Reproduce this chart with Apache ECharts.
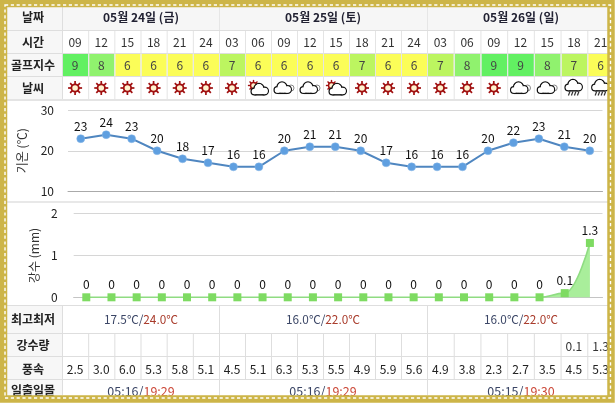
<!DOCTYPE html>
<html><head><meta charset="utf-8">
<style>html,body{margin:0;padding:0;background:#fff}#c{width:615px;height:403px}</style>
<script src="https://cdn.jsdelivr.net/npm/echarts@6/dist/echarts.min.js"></script>
</head><body><div id="c"></div>
<script>
const dayLabels = ['05월 24일 (금)','05월 25일 (토)','05월 26일 (일)'];
const dayCounts = [6,8,7];
const hours = ['09','12','15','18','21','24','03','06','09','12','15','18','21','24','03','06','09','12','15','18','21'];
const golfIndex = [9,8,6,6,6,6,7,6,6,6,6,7,6,6,7,8,9,9,8,7,6];
const weather = ['sun','sun','sun','sun','sun','sun','sun','suncloud','cloud','cloud','suncloud','sun','sun','sun','sun','sun','sun','cloud','cloud','rain','rain'];
const temperature = [23,24,23,20,18,17,16,16,20,21,21,20,17,16,16,16,20,22,23,21,20];
const rainfall = [0,0,0,0,0,0,0,0,0,0,0,0,0,0,0,0,0,0,0,0.1,1.3];
const rainRow = ['','','','','','','','','','','','','','','','','','','','0.1','1.3'];
const wind = ['2.5','3.0','6.0','5.3','5.8','5.1','4.5','5.1','6.3','5.3','5.5','4.9','5.9','5.6','4.9','3.8','2.3','2.7','3.5','4.5','5.3'];
const lowHigh = [['17.5℃','24.0℃'],['16.0℃','22.0℃'],['16.0℃','22.0℃']];
const sunTimes = [['05:16','19:29'],['05:16','19:29'],['05:15','19:30']];
const rowLabels = {date:'날짜',time:'시간',golf:'골프지수',sky:'날씨',range:'최고최저',rain:'강수량',wind:'풍속',sun:'일출일몰'};

const FONT = '"Noto Sans CJK KR","Noto Sans",sans-serif';
const dayEdges = [62,219,427,614];
const golfColors = {9:'#62f062',8:'#90f26e',7:'#bcf560',6:'#fbfd58'};
const LINE = '#dedede';
let edges = [];
dayCounts.forEach((n,d)=>{for(let i=0;i<n;i++)edges.push(dayEdges[d]+(dayEdges[d+1]-dayEdges[d])*i/n);});
edges.push(dayEdges[3]);
const els = [];
const rect=(x,y,w,h,fill,z=1)=>els.push({type:'rect',z,silent:true,shape:{x,y,width:w,height:h},style:{fill}});
const txt=(x,y,text,o={})=>els.push({type:'text',z:o.z||5,silent:true,x,y,style:Object.assign({text,font:(o.weight||'normal')+' '+(o.size||12)+'px '+FONT,fill:o.fill||'#222',align:'center',verticalAlign:'middle'},o.rich?{rich:o.rich}:{})});
const hl=(x1,x2,y,c=LINE,w=1)=>rect(x1,y,x2-x1,w,c,2);
const vl=(x,y1,y2,c=LINE)=>rect(x,y1,1,y2-y1,c,2);

rect(7,7,601,23,'#f6f6f6');
[[31,22],[54,22],[77,22],[305,28],[333,23],[356,23],[379,20]].forEach(r=>rect(7,r[0],55,r[1],'#f7f7f7'));
[30,53,76].forEach(y=>hl(7,608,y));
hl(7,608,99,'#e4e4e4',2);
hl(7,608,201,'#e8e8e8',2);
[305,333,356,379].forEach(y=>hl(7,608,y));
[[7,99],[305,395]].forEach(r=>vl(62,r[0],r[1]));
vl(219,7,30,'#e6e6e6');vl(427,7,30,'#e6e6e6');
vl(219,305,333);vl(427,305,333);
vl(219,379,395);vl(427,379,395);
edges.slice(1,21).forEach(x=>{vl(x,31,99,'#e4e4e4');vl(x,333,379);});

[['date',17],['time',42],['golf',65.5],['sky',88],['range',319],['rain',345],['wind',369],['sun',390]].forEach(r=>{
  txt(33,r[1],rowLabels[r[0]],{weight:'bold',size:12,fill:'#222'});
});
const dayC = [141,323,521];
dayLabels.forEach((t,i)=>{
  txt(dayC[i],17,t,{weight:'bold',size:12,fill:'#223'});
  txt(dayC[i],319.5,'{a|'+lowHigh[i][0]+'/}{b|'+lowHigh[i][1]+'}',{rich:{a:{fill:'#3b4666',font:'11.8px '+FONT},b:{fill:'#a83a2a',font:'11.8px '+FONT}}});
  txt(dayC[i],391,'{a|'+sunTimes[i][0]+'/}{b|'+sunTimes[i][1]+'}',{rich:{a:{fill:'#3b4666',font:'12.5px '+FONT},b:{fill:'#cc4a3a',font:'12.5px '+FONT}}});
});
function sun(cx,cy,s){
  const c=[];
  for(let k=0;k<8;k++){const a=k*Math.PI/4;
    c.push({type:'line',shape:{x1:cx+Math.cos(a)*3.5*s,y1:cy+Math.sin(a)*3.5*s,x2:cx+Math.cos(a)*7*s,y2:cy+Math.sin(a)*7*s},style:{stroke:'#a01010',lineWidth:1.7*s}});}
  c.push({type:'circle',shape:{cx,cy,r:3.7*s},style:{fill:'#fff3cf',stroke:'#a01010',lineWidth:1.8*s}});
  return c;
}
function cloud(cx,cy){
  const parts=[[cx-5.5,cy+2,3.3],[cx-1,cy-1,4.9],[cx+4.5,cy+1.5,3.8]];
  const c=[];
  parts.forEach(p=>c.push({type:'circle',shape:{cx:p[0],cy:p[1],r:p[2]},style:{fill:'#fff',stroke:'#111',lineWidth:1.5}}));
  c.push({type:'line',shape:{x1:cx-5.5,y1:cy+5.3,x2:cx+4.5,y2:cy+5.3},style:{stroke:'#111',lineWidth:1.5}});
  parts.forEach(p=>c.push({type:'circle',shape:{cx:p[0],cy:p[1],r:p[2]-0.5},style:{fill:'#fff'}}));
  c.push({type:'rect',shape:{x:cx-5.5,y:cy,width:10,height:4.6},style:{fill:'#fff'}});
  return c;
}
function icon(kind,cx,cy){
  let c=[];
  if(kind==='sun')c=sun(cx,cy,1);
  if(kind==='suncloud'){c=c.concat(sun(cx-4.5,cy-2.5,0.8),cloud(cx+2,cy+1.5));}
  if(kind==='cloud'){c.push({type:'circle',shape:{cx:cx+7,cy:cy,r:3},style:{fill:'#fff',stroke:'#888',lineWidth:1}});c=c.concat(cloud(cx-1,cy));}
  if(kind==='rain'){c=c.concat(cloud(cx,cy-2.5));
    [-4,-1,2,5].forEach(d=>c.push({type:'line',shape:{x1:cx+d,y1:cy+3.5,x2:cx+d-1.5,y2:cy+7.5},style:{stroke:'#333',lineWidth:1.2}}));}
  c.forEach(e=>{e.z=6;e.silent=true;els.push(e);});
}
hours.forEach((h,i)=>{
  const x0=edges[i],x1=edges[i+1],cx=(x0+x1)/2;
  txt(cx,42.5,h,{size:12,fill:'#333'});
  rect(x0+1,54,x1-x0-1,22,golfColors[golfIndex[i]],1);
  txt(cx,65.5,String(golfIndex[i]),{size:12,fill:'#444'});
  icon(weather[i],cx,88);
  if(rainRow[i])txt(cx,346,rainRow[i],{size:12,fill:'#333'});
  txt(cx,369,wind[i],{size:12,fill:'#222'});
});
els.push({type:'rect',z:50,silent:true,shape:{x:3.5,y:3.5,width:607.5,height:395.5},style:{fill:'none',stroke:'#cdb548',lineWidth:7.5}});
els.push({type:'rect',z:51,silent:true,shape:{x:5,y:5,width:605.5,height:393},style:{fill:'none',stroke:'#fff',lineWidth:1.4,lineDash:[3.2,2.6]}});

const axisBase = {axisTick:{show:false},axisLine:{show:false},axisLabel:{color:'#222',fontFamily:FONT,fontSize:12},splitLine:{show:true,lineStyle:{color:'#d6d6d6',width:1}},nameLocation:'middle',nameRotate:90,nameTextStyle:{color:'#333',fontFamily:FONT,fontSize:12}};
const chart = echarts.init(document.getElementById('c'),null,{renderer:'canvas'});
chart.setOption({
  animation:false,
  backgroundColor:'#fff',
  graphic:{elements:els},
  grid:[{left:68,top:110.5,width:534.5,height:80.5},{left:73.7,top:213.7,width:528.8,height:83.6}],
  xAxis:[
    {gridIndex:0,type:'category',data:hours,axisTick:{show:false},axisLabel:{show:false},axisLine:{lineStyle:{color:'#aaa'}}},
    {gridIndex:1,type:'category',data:hours,axisTick:{show:false},axisLabel:{show:false},axisLine:{lineStyle:{color:'#c4c4c4'}}}
  ],
  yAxis:[
    Object.assign({},axisBase,{gridIndex:0,type:'value',min:10,max:30,interval:10,name:'기온 (℃)',nameGap:40,axisLabel:Object.assign({},axisBase.axisLabel,{margin:14})}),
    Object.assign({},axisBase,{gridIndex:1,type:'value',min:0,max:2,interval:1,name:'강수 (mm)',nameGap:33,axisLabel:Object.assign({},axisBase.axisLabel,{margin:16})})
  ],
  series:[
    {type:'line',xAxisIndex:0,yAxisIndex:0,data:temperature,z:10,symbol:'circle',symbolSize:8,clip:false,
     lineStyle:{color:'#4f86c0',width:2},itemStyle:{color:'#5f9fe0',borderColor:'#8ab8e6',borderWidth:0.5},
     label:{show:true,position:'top',distance:2,color:'#111',fontFamily:FONT,fontSize:12}},
    {type:'line',xAxisIndex:1,yAxisIndex:1,data:rainfall,z:10,symbol:'rect',symbolSize:8,clip:false,smooth:0.45,smoothMonotone:'x',
     lineStyle:{color:'#8fdc82',width:1.6},itemStyle:{color:'#7edb62'},areaStyle:{color:'#a9ee9b',opacity:1},
     label:{show:true,position:'top',distance:3,color:'#111',fontFamily:FONT,fontSize:12}}
  ]
});
</script></body></html>
